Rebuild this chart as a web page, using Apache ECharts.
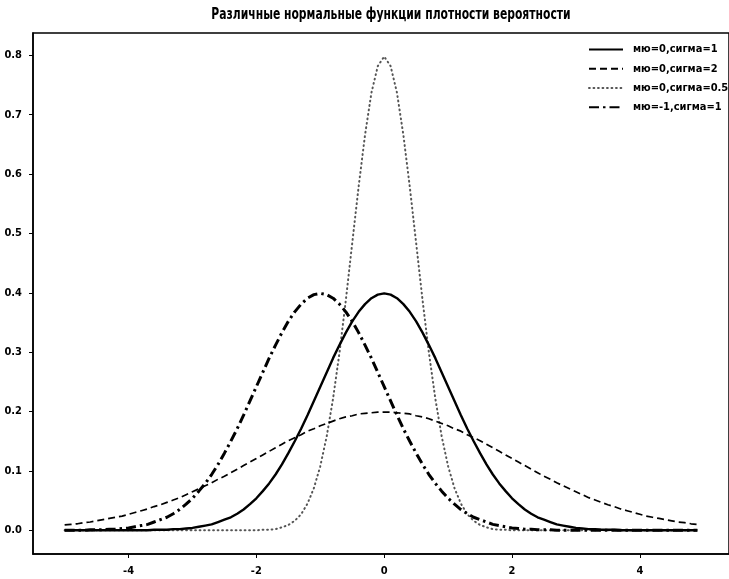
<!DOCTYPE html>
<html>
<head>
<meta charset="utf-8">
<script src="https://cdn.jsdelivr.net/npm/echarts@6/dist/echarts.min.js"></script>
<style>
  html, body { margin: 0; padding: 0; background: #fff; }
  #chart { width: 729px; height: 579px; }
</style>
</head>
<body>
<div id="chart"></div>
<script>
// Sample positions along x (step 0.1 from -5.0 to 4.9)
const xs = [
  -5.0, -4.9, -4.8, -4.7, -4.6, -4.5, -4.4, -4.3, -4.2, -4.1,
  -4.0, -3.9, -3.8, -3.7, -3.6, -3.5, -3.4, -3.3, -3.2, -3.1,
  -3.0, -2.9, -2.8, -2.7, -2.6, -2.5, -2.4, -2.3, -2.2, -2.1,
  -2.0, -1.9, -1.8, -1.7, -1.6, -1.5, -1.4, -1.3, -1.2, -1.1,
  -1.0, -0.9, -0.8, -0.7, -0.6, -0.5, -0.4, -0.3, -0.2, -0.1,
  0.0, 0.1, 0.2, 0.3, 0.4, 0.5, 0.6, 0.7, 0.8, 0.9,
  1.0, 1.1, 1.2, 1.3, 1.4, 1.5, 1.6, 1.7, 1.8, 1.9,
  2.0, 2.1, 2.2, 2.3, 2.4, 2.5, 2.6, 2.7, 2.8, 2.9,
  3.0, 3.1, 3.2, 3.3, 3.4, 3.5, 3.6, 3.7, 3.8, 3.9,
  4.0, 4.1, 4.2, 4.3, 4.4, 4.5, 4.6, 4.7, 4.8, 4.9
];

// мю=0, сигма=1
const mu0s1 = [
  0, 0, 0, 0, 0, 0, 0, 0, 0, 0,
  0, 0, 0, 0, 0.001, 0.001, 0.001, 0.002, 0.002, 0.003,
  0.004, 0.006, 0.008, 0.010, 0.014, 0.018, 0.022, 0.028, 0.035, 0.044,
  0.054, 0.066, 0.079, 0.094, 0.111, 0.130, 0.150, 0.171, 0.194, 0.218,
  0.242, 0.266, 0.290, 0.312, 0.333, 0.352, 0.368, 0.381, 0.391, 0.397,
  0.399, 0.397, 0.391, 0.381, 0.368, 0.352, 0.333, 0.312, 0.290, 0.266,
  0.242, 0.218, 0.194, 0.171, 0.150, 0.130, 0.111, 0.094, 0.079, 0.066,
  0.054, 0.044, 0.035, 0.028, 0.022, 0.018, 0.014, 0.010, 0.008, 0.006,
  0.004, 0.003, 0.002, 0.002, 0.001, 0.001, 0.001, 0, 0, 0,
  0, 0, 0, 0, 0, 0, 0, 0, 0, 0
];

// мю=0, сигма=2
const mu0s2 = [
  0.009, 0.010, 0.011, 0.013, 0.014, 0.016, 0.018, 0.020, 0.022, 0.024,
  0.027, 0.030, 0.033, 0.036, 0.040, 0.043, 0.047, 0.051, 0.055, 0.060,
  0.065, 0.070, 0.075, 0.080, 0.086, 0.091, 0.097, 0.103, 0.109, 0.115,
  0.121, 0.127, 0.133, 0.139, 0.145, 0.151, 0.156, 0.161, 0.167, 0.171,
  0.176, 0.180, 0.184, 0.188, 0.191, 0.193, 0.196, 0.197, 0.198, 0.199,
  0.199, 0.199, 0.198, 0.197, 0.196, 0.193, 0.191, 0.188, 0.184, 0.180,
  0.176, 0.171, 0.167, 0.161, 0.156, 0.151, 0.145, 0.139, 0.133, 0.127,
  0.121, 0.115, 0.109, 0.103, 0.097, 0.091, 0.086, 0.080, 0.075, 0.070,
  0.065, 0.060, 0.055, 0.051, 0.047, 0.043, 0.040, 0.036, 0.033, 0.030,
  0.027, 0.024, 0.022, 0.020, 0.018, 0.016, 0.014, 0.013, 0.011, 0.010
];

// мю=0, сигма=0.5
const mu0s05 = [
  0, 0, 0, 0, 0, 0, 0, 0, 0, 0,
  0, 0, 0, 0, 0, 0, 0, 0, 0, 0,
  0, 0, 0, 0, 0, 0, 0, 0, 0, 0,
  0, 0.001, 0.001, 0.002, 0.005, 0.009, 0.016, 0.027, 0.045, 0.071,
  0.108, 0.158, 0.222, 0.299, 0.388, 0.484, 0.579, 0.666, 0.737, 0.782,
  0.798, 0.782, 0.737, 0.666, 0.579, 0.484, 0.388, 0.299, 0.222, 0.158,
  0.108, 0.071, 0.045, 0.027, 0.016, 0.009, 0.005, 0.002, 0.001, 0.001,
  0, 0, 0, 0, 0, 0, 0, 0, 0, 0,
  0, 0, 0, 0, 0, 0, 0, 0, 0, 0,
  0, 0, 0, 0, 0, 0, 0, 0, 0, 0
];

// мю=-1, сигма=1
const mum1s1 = [
  0, 0, 0, 0, 0.001, 0.001, 0.001, 0.002, 0.002, 0.003,
  0.004, 0.006, 0.008, 0.010, 0.014, 0.018, 0.022, 0.028, 0.035, 0.044,
  0.054, 0.066, 0.079, 0.094, 0.111, 0.130, 0.150, 0.171, 0.194, 0.218,
  0.242, 0.266, 0.290, 0.312, 0.333, 0.352, 0.368, 0.381, 0.391, 0.397,
  0.399, 0.397, 0.391, 0.381, 0.368, 0.352, 0.333, 0.312, 0.290, 0.266,
  0.242, 0.218, 0.194, 0.171, 0.150, 0.130, 0.111, 0.094, 0.079, 0.066,
  0.054, 0.044, 0.035, 0.028, 0.022, 0.018, 0.014, 0.010, 0.008, 0.006,
  0.004, 0.003, 0.002, 0.002, 0.001, 0.001, 0.001, 0, 0, 0,
  0, 0, 0, 0, 0, 0, 0, 0, 0, 0,
  0, 0, 0, 0, 0, 0, 0, 0, 0, 0
];

const seriesNames = ['мю=0,сигма=1', 'мю=0,сигма=2', 'мю=0,сигма=0.5', 'мю=-1,сигма=1'];
const xTicks = [-4, -2, 0, 2, 4];
const yTicks = [0, 0.1, 0.2, 0.3, 0.4, 0.5, 0.6, 0.7, 0.8];
const titleText = 'Различные нормальные функции плотности вероятности';

const FONT = '"Liberation Sans Narrow", "DejaVu Sans Condensed", "Roboto Condensed", sans-serif';

function pairs(ys) {
  return xs.map((x, i) => [x, ys[i]]);
}

const chart = echarts.init(document.getElementById('chart'), null, { renderer: 'canvas' });

chart.setOption({
  animation: false,
  backgroundColor: '#fff',
  // Title as a horizontally condensed text element
  graphic: [{
    type: 'text',
    x: 391,
    y: 15,
    scaleX: 0.8,
    style: {
      text: titleText,
      fontFamily: FONT,
      fontWeight: 'bold',
      fontSize: 15,
      fill: '#000',
      align: 'center',
      verticalAlign: 'middle'
    }
  }],
  grid: {
    left: 33, top: 33, right: -10, bottom: 25,
    show: true, borderColor: '#000', borderWidth: 1.5, backgroundColor: 'transparent'
  },
  legend: {
    orient: 'vertical',
    left: 588,
    top: 44,
    padding: 0,
    itemWidth: 34,
    itemHeight: 14,
    itemGap: 8,
    itemStyle: { opacity: 0 },
    textStyle: {
      fontFamily: FONT, fontWeight: 'bold', fontSize: 11, color: '#000',
      padding: [0, 0, 0, 5]
    },
    data: seriesNames
  },
  xAxis: {
    type: 'value',
    min: -5.495,
    max: 5.395,
    splitLine: { show: false },
    axisLine: { show: true, onZero: false, lineStyle: { color: '#000', width: 1.5 } },
    axisTick: { show: true, inside: false, length: 4, customValues: xTicks, lineStyle: { color: '#000', width: 1 } },
    axisLabel: {
      customValues: xTicks, margin: 12,
      fontFamily: FONT, fontWeight: 'bold', fontSize: 11, color: '#000',
      formatter: v => String(v)
    }
  },
  yAxis: {
    type: 'value',
    min: -0.0399,
    max: 0.8377,
    splitLine: { show: false },
    axisLine: { show: true, onZero: false, lineStyle: { color: '#000', width: 1.5 } },
    axisTick: { show: true, inside: false, length: 4, customValues: yTicks, lineStyle: { color: '#000', width: 1 } },
    axisLabel: {
      customValues: yTicks, margin: 11,
      fontFamily: FONT, fontWeight: 'bold', fontSize: 11, color: '#000',
      formatter: v => v.toFixed(1)
    }
  },
  series: [
    {
      name: seriesNames[0], type: 'line', data: pairs(mu0s1), showSymbol: false, symbol: 'none',
      lineStyle: { color: '#000', width: 2.4, type: 'solid' }, itemStyle: { color: '#000' }, z: 4
    },
    {
      name: seriesNames[1], type: 'line', data: pairs(mu0s2), showSymbol: false, symbol: 'none',
      lineStyle: { color: '#000', width: 1.7, type: [7, 4] }, itemStyle: { color: '#000' }, z: 3
    },
    {
      name: seriesNames[2], type: 'line', data: pairs(mu0s05), showSymbol: false, symbol: 'none',
      lineStyle: { color: '#555', width: 2, type: [0.8, 3.7], cap: 'round' }, itemStyle: { color: '#555' }, z: 2
    },
    {
      name: seriesNames[3], type: 'line', data: pairs(mum1s1), showSymbol: false, symbol: 'none',
      lineStyle: { color: '#000', width: 3, type: [10, 4, 2.5, 4] }, itemStyle: { color: '#000' }, z: 5
    }
  ]
});
</script>
</body>
</html>
